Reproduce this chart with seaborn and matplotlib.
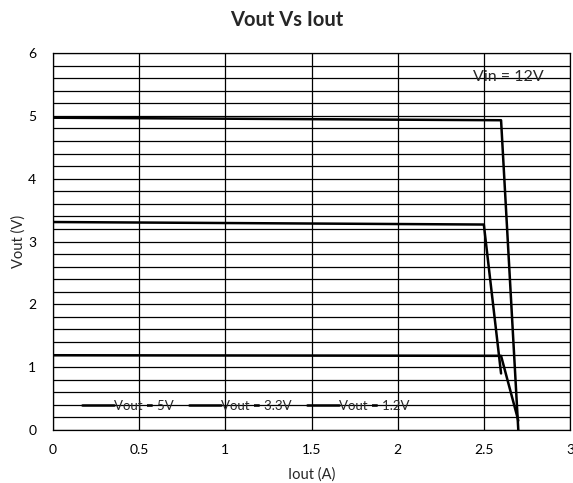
import matplotlib
matplotlib.use("Agg")
import matplotlib.pyplot as plt
import seaborn as sns
import pandas as pd
import numpy as np

series = ["Vout = 5V", "Vout = 3.3V", "Vout = 1.2V"]
iout_5v = [0.0, 2.6, 2.7]
vout_5v = [4.97, 4.93, 0.0]
iout_33v = [0.0, 2.5, 2.6]
vout_33v = [3.31, 3.27, 0.9]
iout_12v = [0.0, 2.6, 2.7]
vout_12v = [1.19, 1.18, 0.15]

frames = []
for name, xs, ys in zip(series, [iout_5v, iout_33v, iout_12v], [vout_5v, vout_33v, vout_12v]):
    frames.append(pd.DataFrame({"Iout": xs, "Vout": ys, "series": name, "order": range(len(xs))}))
df = pd.concat(frames, ignore_index=True)

sns.set_theme(style="white")
plt.rcParams['font.family'] = ['Lato', 'DejaVu Sans']

fig = plt.figure(figsize=(5.73, 4.83), dpi=100)
ax = fig.add_axes([53/573, 1-430/483, (570-53)/573, (430-53)/483])

sns.lineplot(data=df, x="Iout", y="Vout", hue="series", sort=False,
             palette=["black", "black", "black"], linewidth=1.8, ax=ax, estimator=None)

ax.set_xlim(0, 3)
ax.set_ylim(0, 6)
ax.set_xticks(np.arange(0, 3.01, 0.5))
ax.set_xticklabels(["0", "0.5", "1", "1.5", "2", "2.5", "3"])
ax.set_yticks(range(0, 7))
ax.set_yticks(np.arange(0, 6.01, 0.2), minor=True)
ax.grid(True, axis="x", which="major", color="black", linewidth=0.9)
ax.grid(True, axis="y", which="both", color="black", linewidth=0.9)
ax.set_axisbelow(True)
for s in ax.spines.values():
    s.set_color("black")
    s.set_linewidth(0.9)
ax.tick_params(axis="both", which="both", length=0, labelsize=10, colors="black")
ax.tick_params(axis="y", pad=12)
ax.tick_params(axis="x", pad=10)

ax.set_xlabel("Iout (A)", fontsize=10.5, labelpad=8)
ax.set_ylabel("Vout (V)", fontsize=10.5, labelpad=2)
fig.text(0.5, 1 - 20/483, "Vout Vs Iout", fontsize=14.5, fontweight="bold",
         ha="center", va="center")

ax.text(2.64, 5.62, "Vin = 12V", fontsize=11.5, ha="center", va="center")

leg = ax.legend(loc="center", bbox_to_anchor=(0.373, 0.064), ncol=3, frameon=False,
                fontsize=9.5, handlelength=2.4, handletextpad=0.0, columnspacing=1.2)
for h in leg.get_lines():
    h.set_linewidth(1.8)

fig.savefig("out.png", dpi=100)
